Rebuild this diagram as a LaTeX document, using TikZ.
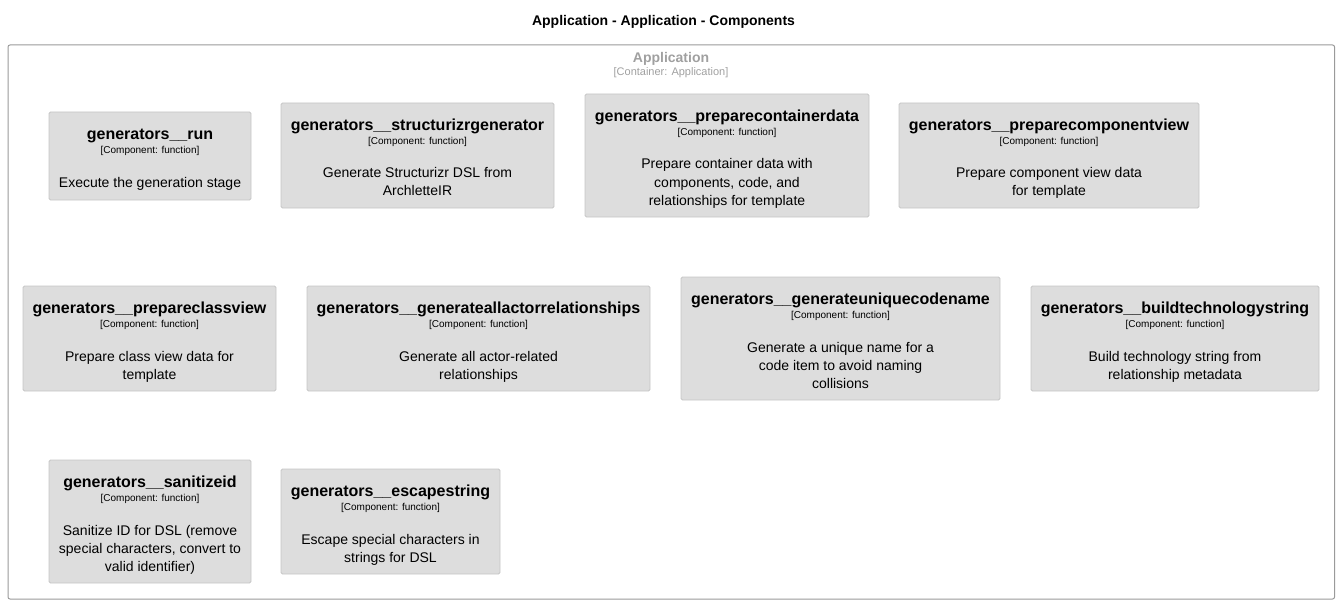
\documentclass[tikz,border=0pt]{standalone}
\usepackage{fontspec}
\setmainfont{Liberation Sans}
\definecolor{boxfill}{HTML}{DDDDDD}
\definecolor{boxline}{HTML}{C6C6C6}
\definecolor{contline}{HTML}{9A9A9A}
\definecolor{conttext}{HTML}{A0A0A0}
\tikzset{
  compbox/.style={draw=boxline, fill=boxfill, line width=0.8pt, rounded corners=1.5pt},
  conttbox/.style={draw=contline, line width=1pt, rounded corners=2pt},
  comptitle/.style={anchor=base, inner sep=0pt, font=\fontsize{16}{18}\selectfont\bfseries},
  compsub/.style={anchor=base, inner sep=0pt, font=\fontsize{10}{12}\selectfont},
  compdesc/.style={anchor=base, inner sep=0pt, font=\fontsize{14}{18}\selectfont},
}
% #1 name, #2 left, #3 top, #4 right, #5 bottom, #6 title, #7 desc lines (list)
\newcommand{\compnode}[7]{%
  \draw[compbox] (#2,#3) rectangle (#4,#5);
  \path (#2,#3) -- (#4,#3) coordinate[pos=0.5] (#1top);
  \node[comptitle] (#1t) at ([yshift=-27.3pt]#1top) {#6};
  \node[compsub] (#1s) at ([yshift=-41.4pt]#1top) {[Component: function]};
  \foreach \ln [count=\i from 0] in {#7} {
    \node[compdesc] (#1d\i) at ([yshift={-75pt-18pt*\i}]#1top) {\ln};
  }
}
\begin{document}
\begin{tikzpicture}[x=1pt,y=-1pt]
\useasboundingbox (0,0) rectangle (1340,604);
\node[anchor=base, inner sep=0pt, font=\fontsize{14}{16}\selectfont\bfseries] (title) at (663.5,25.8) {Application - Application - Components};
\draw[conttbox] (8,45) rectangle (1334.5,599);
\node[anchor=base, inner sep=0pt, text=conttext, font=\fontsize{14}{16}\selectfont\bfseries] (ctitle) at (671,62.5) {Application};
\node[anchor=base, inner sep=0pt, text=conttext, font=\fontsize{11}{12}\selectfont] (csub) at (671,76) {[Container: Application]};

\compnode{a}{49}{112}{251}{200}{generators\_\_run}{Execute the generation stage}
\compnode{b}{281}{103}{554}{208}{generators\_\_structurizrgenerator}{Generate Structurizr DSL from,ArchletteIR}
\compnode{c}{585}{94}{869}{217}{generators\_\_preparecontainerdata}{Prepare container data with,{components, code, and},relationships for template}
\compnode{d}{899}{103}{1199}{208}{generators\_\_preparecomponentview}{Prepare component view data,for template}

\compnode{e}{23}{286}{276}{391}{generators\_\_prepareclassview}{Prepare class view data for,template}
\compnode{f}{307}{286}{650}{391}{generators\_\_generateallactorrelationships}{Generate all actor-related,relationships}
\compnode{g}{681}{277}{1000}{400}{generators\_\_generateuniquecodename}{Generate a unique name for a,code item to avoid naming,collisions}
\compnode{h}{1031}{286}{1319}{391}{generators\_\_buildtechnologystring}{Build technology string from,relationship metadata}

\compnode{i}{49}{460}{251}{583}{generators\_\_sanitizeid}{Sanitize ID for DSL (remove,{special characters, convert to},valid identifier)}
\compnode{j}{281}{469}{500}{574}{generators\_\_escapestring}{Escape special characters in,strings for DSL}
\end{tikzpicture}
\end{document}
